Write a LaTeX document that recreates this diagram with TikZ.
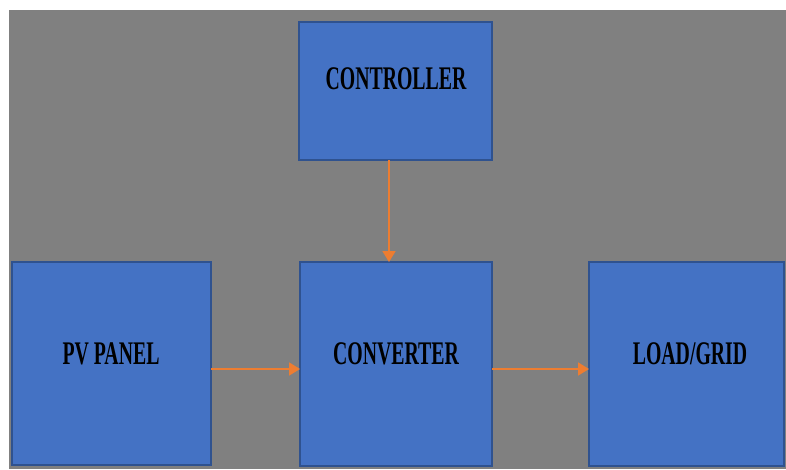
\documentclass[tikz,border=0pt]{standalone}
\usepackage{fontspec}
\setmainfont{Liberation Serif}
\usetikzlibrary{arrows.meta}
\definecolor{bggray}{HTML}{808080}
\definecolor{boxblue}{HTML}{4472C4}
\definecolor{boxedge}{HTML}{2F528F}
\definecolor{arrorange}{HTML}{ED7D31}
\tikzset{
  blk/.style={draw=boxedge, fill=boxblue, line width=1.5pt},
  lbl/.style={font=\bfseries\fontsize{33}{33}\selectfont, xscale=0.6, text=black, inner sep=0pt},
  flow/.style={draw=arrorange, line width=1.8pt, -{Triangle[length=11pt,width=13pt]}}
}
\begin{document}
\begin{tikzpicture}[x=1pt,y=-1pt]
\useasboundingbox (0,0) rectangle (786,469);
\fill[white] (0,0) rectangle (786,469);
\fill[bggray] (9,10) rectangle (786,469);
% boxes
\path[blk] (299,22) rectangle (492,160);
\path[blk] (12,262) rectangle (211,465);
\path[blk] (300,262) rectangle (492,466);
\path[blk] (589,262) rectangle (784,466);
% anchors
\coordinate (ctrlB) at (389,160);
\coordinate (convT) at (389,262);
\coordinate (pvR) at (211,369);
\coordinate (convL) at (300,369);
\coordinate (convR) at (492,369);
\coordinate (loadL) at (589,369);
% labels
\node[lbl] (ctrl) at (396,79) {CONTROLLER};
\node[lbl] (pv) at (111,354) {PV PANEL};
\node[lbl] (conv) at (396,354) {CONVERTER};
\node[lbl] (load) at (690,354) {LOAD/GRID};
% connectors
\draw[flow] (ctrlB) -- (convT);
\draw[flow] (pvR) -- (convL);
\draw[flow] (convR) -- (loadL);
\end{tikzpicture}
\end{document}
